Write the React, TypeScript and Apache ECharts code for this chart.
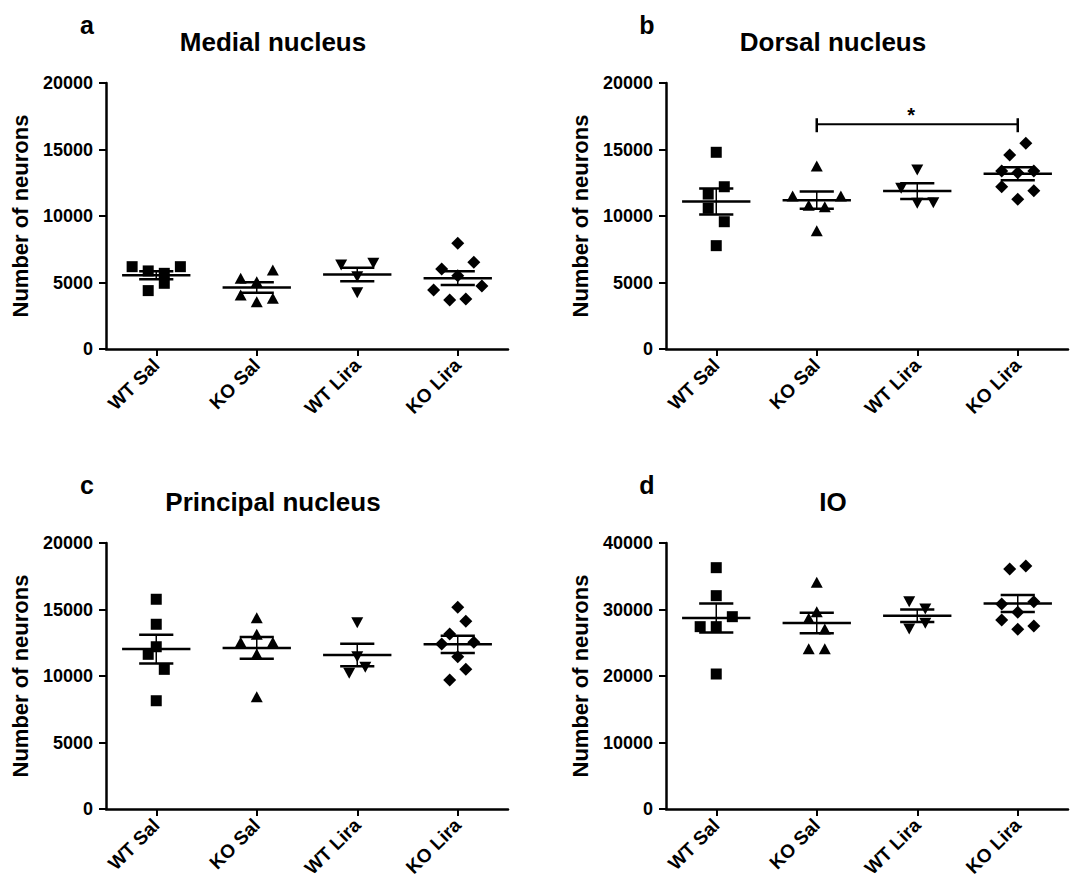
import React, { useEffect, useRef } from 'react';
import * as echarts from 'echarts';

// ---------- data ----------
const categories = ['WT Sal', 'KO Sal', 'WT Lira', 'KO Lira'];
const panelLetters = ['a', 'b', 'c', 'd'];
const panelTitles = ['Medial nucleus', 'Dorsal nucleus', 'Principal nucleus', 'IO'];
const yMax = [20000, 20000, 20000, 40000];
const yInterval = [5000, 5000, 5000, 10000];

// values per group, with horizontal scatter slot (GraphPad-style spreading)
const medialWTSal = [6190, 5870, 5690, 4940, 6190, 4390];
const medialWTSalSlot = [-3, -1, 1, 1, 3, -1];
const medialKOSal = [5320, 5060, 5940, 4060, 3560, 3810];
const medialKOSalSlot = [-2, 0, 2, -2, 0, 2];
const medialWTLira = [6320, 6440, 5440, 4230];
const medialWTLiraSlot = [-2, 2, 0, 0];
const medialKOLira = [7950, 6520, 6020, 5510, 4440, 4740, 3680, 3760];
const medialKOLiraSlot = [0, 2, -2, 0, -3, 3, -1, 1];

const dorsalWTSal = [14790, 12200, 11650, 10580, 9570, 7770];
const dorsalWTSalSlot = [0, 1, -1, -1, 1, 0];
const dorsalKOSal = [13760, 11500, 11500, 10800, 10700, 8900];
const dorsalKOSalSlot = [0, -3, 3, -1, 1, 0];
const dorsalWTLira = [13460, 12080, 10960, 11000];
const dorsalWTLiraSlot = [0, -2, 0, 2];
const dorsalKOLira = [15470, 14590, 13380, 13260, 13380, 12200, 11900, 11260];
const dorsalKOLiraSlot = [1, -1, -2, 0, 2, -2, 2, 0];

const principalWTSal = [15770, 13890, 12200, 11630, 10500, 8140];
const principalWTSalSlot = [0, 0, 0, -1, 1, 0];
const principalKOSal = [14380, 12530, 13140, 12530, 11650, 8440];
const principalKOSalSlot = [0, -2, 0, 2, 0, 0];
const principalWTLira = [14010, 11450, 10650, 10200];
const principalWTLiraSlot = [0, 0, 1, -1];
const principalKOLira = [15170, 14110, 13160, 12410, 12530, 11450, 10500, 9700];
const principalKOLiraSlot = [0, 1, -1, -2, 2, 0, 1, -1];

const ioWTSal = [36290, 32080, 28920, 27420, 27420, 20300];
const ioWTSalSlot = [0, 0, 2, -2, 0, 0];
const ioKOSal = [34100, 29670, 28680, 27070, 24110, 24110];
const ioKOSalSlot = [0, 0, -1, 1, -1, 1];
const ioWTLira = [31180, 30080, 27930, 27070];
const ioWTLiraSlot = [-1, 1, 1, -1];
const ioKOLira = [36100, 36550, 30830, 31180, 29580, 28430, 27520, 27030];
const ioKOLiraSlot = [-1, 1, -2, 2, 0, -2, 2, 0];

// significance bracket (panel b): from group, to group, height, label
const dorsalSigFrom = 1;
const dorsalSigTo = 3;
const dorsalSigLevel = 16900;
const dorsalSigLabel = '*';

const panelValues = [
  [medialWTSal, medialKOSal, medialWTLira, medialKOLira],
  [dorsalWTSal, dorsalKOSal, dorsalWTLira, dorsalKOLira],
  [principalWTSal, principalKOSal, principalWTLira, principalKOLira],
  [ioWTSal, ioKOSal, ioWTLira, ioKOLira],
];
const panelSlots = [
  [medialWTSalSlot, medialKOSalSlot, medialWTLiraSlot, medialKOLiraSlot],
  [dorsalWTSalSlot, dorsalKOSalSlot, dorsalWTLiraSlot, dorsalKOLiraSlot],
  [principalWTSalSlot, principalKOSalSlot, principalWTLiraSlot, principalKOLiraSlot],
  [ioWTSalSlot, ioKOSalSlot, ioWTLiraSlot, ioKOLiraSlot],
];

// ---------- styles ----------
const FONT = '"Liberation Sans", Arial, Helvetica, sans-serif';
const SLOT = 0.08;
const groupSymbols = [
  { symbol: 'rect', size: 11, rotate: 0 },
  { symbol: 'triangle', size: [12, 11], rotate: 0 },
  { symbol: 'triangle', size: [12, 11], rotate: 180 },
  { symbol: 'diamond', size: 13, rotate: 0 },
];
const gridPos = [
  { left: 106, top: 83 },
  { left: 666, top: 83 },
  { left: 106, top: 543 },
  { left: 666, top: 543 },
];
const GRID_W = 402;
const GRID_H = 266;

const mean = (a: number[]) => a.reduce((s, v) => s + v, 0) / a.length;
const sem = (a: number[]) => {
  const m = mean(a);
  const v = a.reduce((s, x) => s + (x - m) * (x - m), 0) / (a.length - 1);
  return Math.sqrt(v / a.length);
};

function buildOption() {
  const grid: any[] = [];
  const xAxis: any[] = [];
  const yAxis: any[] = [];
  const series: any[] = [];
  const graphic: any[] = [];

  for (let p = 0; p < 4; p++) {
    grid.push({ left: gridPos[p].left, top: gridPos[p].top, width: GRID_W, height: GRID_H, containLabel: false });
    xAxis.push({
      type: 'category',
      gridIndex: p,
      data: categories,
      boundaryGap: true,
      axisLine: { show: true, lineStyle: { color: '#000', width: 2.5 } },
      axisTick: { show: true, alignWithLabel: true, length: 7, lineStyle: { color: '#000', width: 2 } },
      axisLabel: { rotate: 45, fontSize: 19, fontWeight: 'bold', color: '#000', fontFamily: FONT, margin: 13 },
      splitLine: { show: false },
    });
    xAxis.push({ type: 'value', gridIndex: p, min: -0.5, max: 3.5, show: false });
    yAxis.push({
      type: 'value',
      gridIndex: p,
      min: 0,
      max: yMax[p],
      interval: yInterval[p],
      axisLine: { show: true, onZero: false, lineStyle: { color: '#000', width: 2.5 } },
      axisTick: { show: true, length: 7, lineStyle: { color: '#000', width: 2 } },
      axisLabel: {
        fontSize: 18, fontWeight: 'bold', color: '#000', fontFamily: FONT, margin: 13,
        formatter: (v: number) => String(v),
      },
      splitLine: { show: false },
      name: 'Number of neurons',
      nameLocation: 'middle',
      nameGap: 75,
      nameTextStyle: { fontSize: 22, fontWeight: 'bold', color: '#000', fontFamily: FONT },
    });

    const vals = panelValues[p];
    const slots = panelSlots[p];
    for (let g = 0; g < 4; g++) {
      const sym = groupSymbols[g];
      series.push({
        type: 'scatter',
        xAxisIndex: 2 * p + 1,
        yAxisIndex: p,
        symbol: sym.symbol,
        symbolSize: sym.size,
        symbolRotate: sym.rotate,
        itemStyle: { color: '#000', opacity: 1 },
        data: vals[g].map((v, i) => [g + slots[g][i] * SLOT, v]),
        z: 3,
      });
    }
    series.push({
      type: 'custom',
      xAxisIndex: 2 * p + 1,
      yAxisIndex: p,
      z: 4,
      data: vals.map((arr, g) => [g, mean(arr), sem(arr)]),
      renderItem: (params: any, api: any) => {
        const x = api.value(0);
        const m = api.value(1);
        const s = api.value(2);
        const mL = api.coord([x - 0.34, m]);
        const mR = api.coord([x + 0.34, m]);
        const uL = api.coord([x - 0.17, m + s]);
        const uR = api.coord([x + 0.17, m + s]);
        const lL = api.coord([x - 0.17, m - s]);
        const lR = api.coord([x + 0.17, m - s]);
        const top = api.coord([x, m + s]);
        const bot = api.coord([x, m - s]);
        const ln = (a: number[], b: number[], w: number) => ({
          type: 'line',
          shape: { x1: a[0], y1: a[1], x2: b[0], y2: b[1] },
          style: { stroke: '#000', lineWidth: w },
        });
        return {
          type: 'group',
          children: [ln(mL, mR, 2.5), ln(uL, uR, 2.5), ln(lL, lR, 2.5), ln(top, bot, 1.5)],
        };
      },
    });

    // panel letter and title
    const dy = gridPos[p].top - 83;
    const cx = gridPos[p].left + 167;
    graphic.push({
      type: 'text',
      x: gridPos[p].left - 19,
      y: 25 + dy,
      style: {
        text: panelLetters[p], fill: '#000', font: `bold 25px ${FONT}`,
        align: 'center', verticalAlign: 'middle', textAlign: 'center', textVerticalAlign: 'middle',
      },
    });
    graphic.push({
      type: 'text',
      x: cx,
      y: 42 + dy,
      style: {
        text: panelTitles[p], fill: '#000', font: `bold 26px ${FONT}`,
        align: 'center', verticalAlign: 'middle', textAlign: 'center', textVerticalAlign: 'middle',
      },
    });
  }

  // significance bracket on panel b
  series.push({
    type: 'custom',
    xAxisIndex: 3,
    yAxisIndex: 1,
    z: 5,
    data: [[dorsalSigFrom, dorsalSigTo, dorsalSigLevel]],
    renderItem: (params: any, api: any) => {
      const a = api.coord([api.value(0), api.value(2)]);
      const b = api.coord([api.value(1), api.value(2)]);
      const st = { stroke: '#000', lineWidth: 2 };
      return {
        type: 'group',
        children: [
          { type: 'line', shape: { x1: a[0], y1: a[1] - 6, x2: a[0], y2: a[1] + 8 }, style: { ...st, lineWidth: 2.5 } },
          { type: 'line', shape: { x1: a[0], y1: a[1], x2: b[0], y2: b[1] }, style: st },
          { type: 'line', shape: { x1: b[0], y1: b[1] - 6, x2: b[0], y2: b[1] + 8 }, style: { ...st, lineWidth: 2.5 } },
          {
            type: 'text',
            x: (a[0] + b[0]) / 2 - 6,
            y: a[1] - 9,
            style: {
              text: dorsalSigLabel, fill: '#000', font: `bold 20px ${FONT}`,
              align: 'center', verticalAlign: 'middle', textAlign: 'center', textVerticalAlign: 'middle',
            },
          },
        ],
      };
    },
  });

  return {
    animation: false,
    backgroundColor: '#fff',
    grid,
    xAxis,
    yAxis,
    series,
    graphic,
  };
}

export default function App() {
  const ref = useRef<HTMLDivElement>(null);
  useEffect(() => {
    if (!ref.current) return;
    const chart = echarts.init(ref.current, undefined, { renderer: 'svg' });
    chart.setOption(buildOption() as any);
    return () => chart.dispose();
  }, []);
  return (
    <div
      ref={ref}
      style={{ position: 'absolute', left: 0, top: 0, width: 1073, height: 888, background: '#fff' }}
    />
  );
}
